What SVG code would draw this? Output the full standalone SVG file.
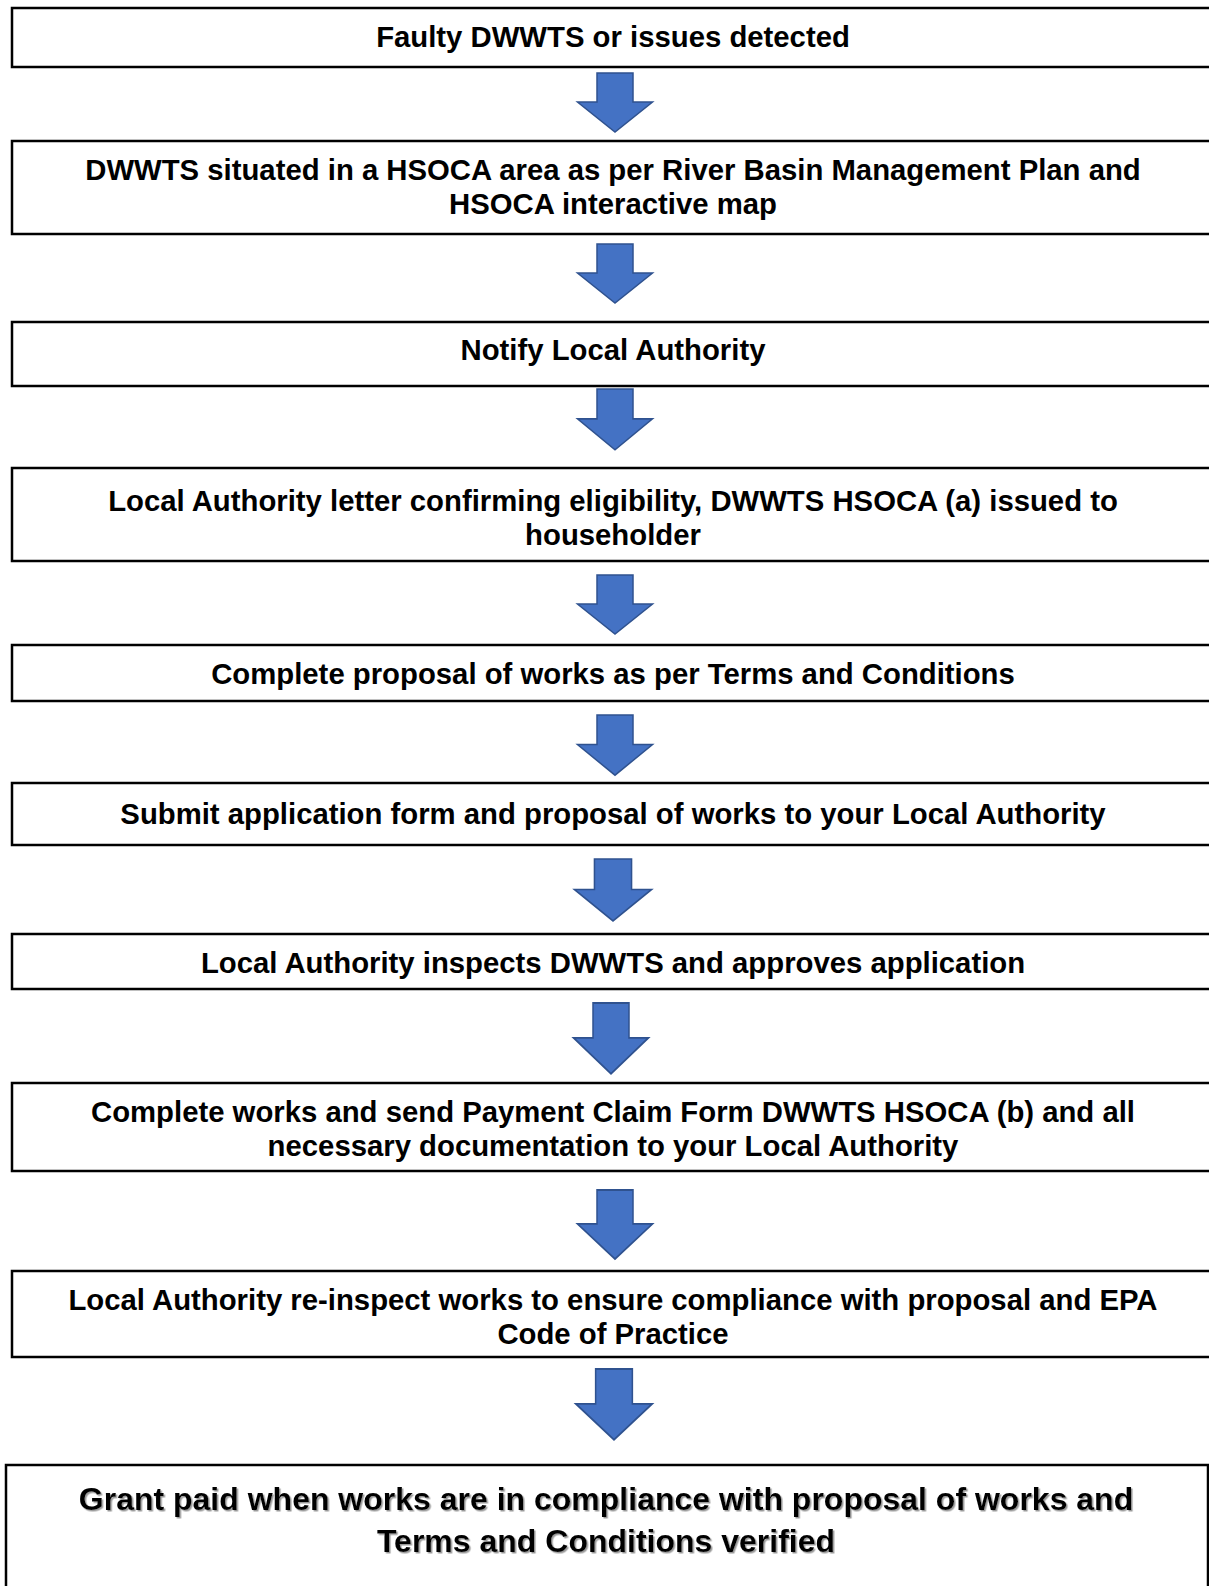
<svg xmlns="http://www.w3.org/2000/svg" width="1209" height="1586" viewBox="0 0 1209 1586">
<style>
.box{fill:#fff;stroke:#000;stroke-width:2.5}
.t{font-family:"Liberation Sans",Arial,sans-serif;font-weight:bold;font-size:29.3px;fill:#000;text-anchor:middle}
.tb{font-family:"Liberation Sans",Arial,sans-serif;font-weight:bold;font-size:32px;fill:#000;text-anchor:middle;filter:url(#sh)}
.arr{fill:#4472C4;stroke:#2F528F;stroke-width:1.5;stroke-linejoin:miter}
</style>
<defs>
<filter id="sh" x="-5%" y="-20%" width="110%" height="150%">
<feDropShadow dx="1.5" dy="1.5" stdDeviation="0.6" flood-color="#808080" flood-opacity="0.8"/>
</filter>
<path id="ar" d="M-18,0 H18 V29 H37.5 L0,59 L-37.5,29 H-18 Z"/>
</defs>
<rect width="1209" height="1586" fill="#fff"/>
<g id="connectors">
<use href="#ar" class="arr" transform="translate(615,73)"/>
<use href="#ar" class="arr" transform="translate(615,244)"/>
<use href="#ar" class="arr" transform="translate(615,389) scale(1,1.03)"/>
<use href="#ar" class="arr" transform="translate(615,575)"/>
<use href="#ar" class="arr" transform="translate(615,715) scale(1,1.02)"/>
<use href="#ar" class="arr" transform="translate(613,859) scale(1.03,1.05)"/>
<use href="#ar" class="arr" transform="translate(611,1003) scale(1,1.2)"/>
<use href="#ar" class="arr" transform="translate(615,1190) scale(1,1.17)"/>
<use href="#ar" class="arr" transform="translate(614,1369) scale(1.02,1.2)"/>
</g>
<g id="n1"><rect class="box" x="12" y="8" width="1220" height="59"/>
<text class="t" x="613" y="47">Faulty DWWTS or issues detected</text></g>
<g id="n2"><rect class="box" x="12" y="141" width="1220" height="93"/>
<text class="t" x="613" y="179.5">DWWTS situated in a HSOCA area as per River Basin Management Plan and</text>
<text class="t" x="613" y="214">HSOCA interactive map</text></g>
<g id="n3"><rect class="box" x="12" y="322" width="1220" height="64"/>
<text class="t" x="613" y="360">Notify Local Authority</text></g>
<g id="n4"><rect class="box" x="12" y="468" width="1220" height="93"/>
<text class="t" x="613" y="510.5">Local Authority letter confirming eligibility, DWWTS HSOCA (a) issued to</text>
<text class="t" x="613" y="544.5">householder</text></g>
<g id="n5"><rect class="box" x="12" y="645" width="1220" height="56"/>
<text class="t" x="613" y="684">Complete proposal of works as per Terms and Conditions</text></g>
<g id="n6"><rect class="box" x="12" y="783" width="1220" height="62"/>
<text class="t" x="613" y="824">Submit application form and proposal of works to your Local Authority</text></g>
<g id="n7"><rect class="box" x="12" y="934" width="1220" height="55"/>
<text class="t" x="613" y="973">Local Authority inspects DWWTS and approves application</text></g>
<g id="n8"><rect class="box" x="12" y="1083" width="1220" height="88"/>
<text class="t" x="613" y="1121.5">Complete works and send Payment Claim Form DWWTS HSOCA (b) and all</text>
<text class="t" x="613" y="1156">necessary documentation to your Local Authority</text></g>
<g id="n9"><rect class="box" x="12" y="1271" width="1220" height="86"/>
<text class="t" x="613" y="1309.5">Local Authority re-inspect works to ensure compliance with proposal and EPA</text>
<text class="t" x="613" y="1344">Code of Practice</text></g>
<g id="n10"><rect class="box" x="6" y="1465" width="1202" height="140"/>
<text class="tb" x="606" y="1510">Grant paid when works are in compliance with proposal of works and</text>
<text class="tb" x="606" y="1551.5">Terms and Conditions verified</text></g>
</svg>
